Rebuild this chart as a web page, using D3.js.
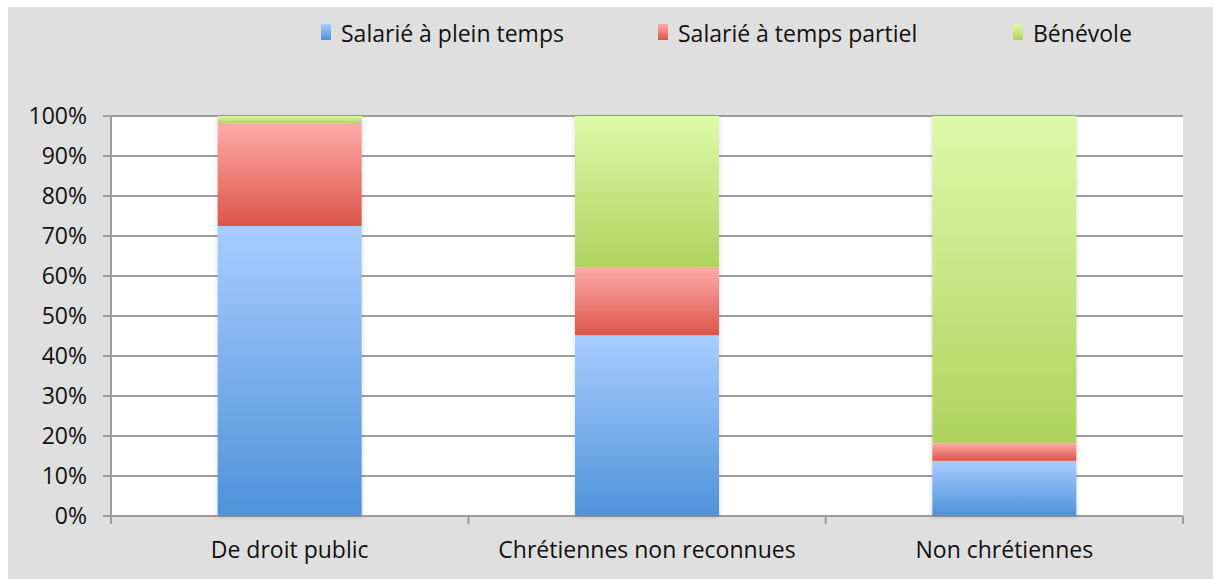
<!DOCTYPE html>
<html>
<head>
<meta charset="utf-8">
<script src="https://cdn.jsdelivr.net/npm/d3@7"></script>
<style>
  body { margin: 0; background: #fff; }
  text { font-family: "Open Sans", sans-serif; fill: #111; }
</style>
</head>
<body>
<script>
const categories = ['De droit public', 'Chrétiennes non reconnues', 'Non chrétiennes'];
const seriesNames = ['Salarié à plein temps', 'Salarié à temps partiel', 'Bénévole'];
const pleinTemps = [72.5, 45.2, 13.8];
const tempsPartiel = [25.8, 16.9, 4.4];
const benevole = [1.7, 37.9, 81.8];
const yTicks = [0, 10, 20, 30, 40, 50, 60, 70, 80, 90, 100];

const width = 1213;
const height = 579;
const plot = { left: 111, right: 1183, top: 116, bottom: 516 };
const fontSize = '23px';

const gradients = [
  { id: 'gBlue', top: '#a8cdff', bottom: '#4e92d9' },
  { id: 'gRed', top: '#ffabaa', bottom: '#dc5549' },
  { id: 'gGreen', top: '#def9aa', bottom: '#afd35e' }
];

const table = categories.map((c, i) => ({
  cat: c,
  [seriesNames[0]]: pleinTemps[i],
  [seriesNames[1]]: tempsPartiel[i],
  [seriesNames[2]]: benevole[i]
}));
const stacked = d3.stack().keys(seriesNames)(table);

const svg = d3.select('body').append('svg')
  .attr('width', width)
  .attr('height', height);

const defs = svg.append('defs');
gradients.forEach((g) => {
  const lg = defs.append('linearGradient')
    .attr('id', g.id)
    .attr('x1', 0).attr('y1', 0).attr('x2', 0).attr('y2', 1);
  lg.append('stop').attr('offset', '0%').attr('stop-color', g.top);
  lg.append('stop').attr('offset', '100%').attr('stop-color', g.bottom);
});
const shadow = defs.append('filter').attr('id', 'shadow')
  .attr('x', '-10%').attr('y', '-10%').attr('width', '120%').attr('height', '120%');
shadow.append('feDropShadow')
  .attr('dx', 0).attr('dy', 1).attr('stdDeviation', 2)
  .attr('flood-color', '#000').attr('flood-opacity', 0.18);

svg.append('rect')
  .attr('x', 8).attr('y', 7)
  .attr('width', width - 8).attr('height', height - 7)
  .attr('fill', '#dfdfdf');

svg.append('rect')
  .attr('x', plot.left).attr('y', plot.top)
  .attr('width', plot.right - plot.left).attr('height', plot.bottom - plot.top)
  .attr('fill', '#fff');

const xScale = d3.scaleBand().domain(categories).range([plot.left, plot.right]).padding(0);
const yScale = d3.scaleLinear().domain([0, 100]).range([plot.bottom, plot.top]);
const barWidth = xScale.bandwidth() * 0.403;

// grid
svg.append('g')
  .selectAll('line')
  .data(yTicks)
  .enter()
  .append('line')
  .attr('x1', plot.left - 8)
  .attr('x2', plot.right)
  .attr('y1', (d) => yScale(d))
  .attr('y2', (d) => yScale(d))
  .attr('stroke', '#9d9d9d')
  .attr('stroke-width', 2);

// y labels
svg.append('g')
  .selectAll('text')
  .data(yTicks)
  .enter()
  .append('text')
  .attr('x', 87)
  .attr('y', (d) => yScale(d) + 8)
  .attr('text-anchor', 'end')
  .style('font-size', fontSize)
  .text((d) => d + '%');

// axis lines
svg.append('line')
  .attr('x1', plot.left).attr('x2', plot.left)
  .attr('y1', plot.top).attr('y2', plot.bottom + 8)
  .attr('stroke', '#9d9d9d').attr('stroke-width', 2);

const xTickPos = categories.map((c) => xScale(c)).concat([plot.right]);
svg.append('g')
  .selectAll('line')
  .data(xTickPos)
  .enter()
  .append('line')
  .attr('x1', (d) => d).attr('x2', (d) => d)
  .attr('y1', plot.bottom).attr('y2', plot.bottom + 8)
  .attr('stroke', '#9d9d9d').attr('stroke-width', 2);

// bars
const layers = svg.append('g').attr('filter', 'url(#shadow)')
  .selectAll('g')
  .data(stacked)
  .enter()
  .append('g')
  .attr('fill', (d, i) => `url(#${gradients[i].id})`);

layers.selectAll('rect')
  .data((d) => d)
  .enter()
  .append('rect')
  .attr('x', (d) => xScale(d.data.cat) + (xScale.bandwidth() - barWidth) / 2)
  .attr('y', (d) => yScale(d[1]))
  .attr('width', barWidth)
  .attr('height', (d) => yScale(d[0]) - yScale(d[1]));

// category labels
svg.append('g')
  .selectAll('text')
  .data(categories)
  .enter()
  .append('text')
  .attr('x', (d) => xScale(d) + xScale.bandwidth() / 2)
  .attr('y', 558)
  .attr('text-anchor', 'middle')
  .style('font-size', fontSize)
  .text((d) => d);

// legend
const legendX = [321, 658, 1013];
const legend = svg.append('g')
  .selectAll('g')
  .data(seriesNames)
  .enter()
  .append('g')
  .attr('transform', (d, i) => `translate(${legendX[i]}, 0)`);

legend.append('rect')
  .attr('x', 0).attr('y', 24)
  .attr('width', 10).attr('height', 16)
  .attr('fill', (d, i) => `url(#${gradients[i].id})`);

legend.append('text')
  .attr('x', 20).attr('y', 42)
  .style('font-size', fontSize)
  .text((d) => d);
</script>
</body>
</html>
